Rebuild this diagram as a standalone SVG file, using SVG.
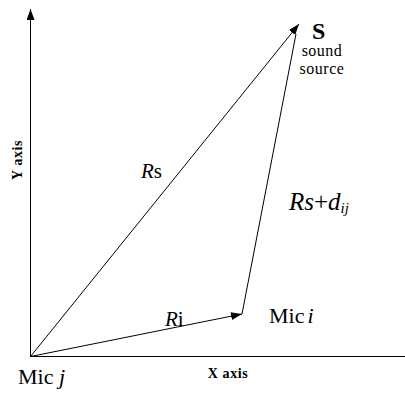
<svg xmlns="http://www.w3.org/2000/svg" width="405" height="396" viewBox="0 0 405 396" font-family="'Liberation Serif', 'DejaVu Serif', serif">
<style>
.t{font-family:'Liberation Serif','DejaVu Serif',serif;fill:#000}
.ln{stroke:#000;stroke-width:1;fill:none}
.b{font-weight:bold}
.it{font-style:italic}
.ax{font-size:14px;font-weight:bold;letter-spacing:0.6px}
</style>
<defs>
<marker id="ah" markerWidth="12" markerHeight="10" refX="11" refY="4" orient="auto" markerUnits="userSpaceOnUse">
<path d="M0,0 L11,4 L0,8 z" fill="#000"/>
</marker>
</defs>
<rect width="405" height="396" fill="#fff"/>
<g id="connectors">
<line class="ln" x1="30.5" y1="356.5" x2="30.5" y2="9" marker-end="url(#ah)"/>
<line class="ln" x1="30.5" y1="356.5" x2="405" y2="356.5"/>
<line class="ln" x1="30.5" y1="356.5" x2="299" y2="24" marker-end="url(#ah)"/>
<line class="ln" x1="30.5" y1="356.5" x2="242" y2="314" marker-end="url(#ah)"/>
<line class="ln" x1="242" y1="314" x2="296" y2="34"/>
</g>
<g id="source" class="t">
<text class="t b" x="312" y="39" font-size="24">S</text>
<text class="t" x="322" y="56" font-size="16" text-anchor="middle" letter-spacing="0.5">sound</text>
<text class="t" x="322" y="74" font-size="16" text-anchor="middle" letter-spacing="0.5">source</text>
</g>
<g id="labels" class="t">
<text class="t" x="141" y="178" font-size="21"><tspan class="it">R</tspan>s</text>
<text class="t it" x="289" y="210" font-size="25">Rs<tspan font-style="normal">+</tspan>d<tspan font-size="15" dy="3">ij</tspan></text>
<text class="t" x="165" y="326" font-size="21"><tspan class="it">R</tspan>i</text>
<text class="t" x="269" y="323" font-size="22">Mic<tspan class="it" dx="3">i</tspan></text>
<text class="t" x="18" y="384" font-size="22">Mic <tspan class="it">j</tspan></text>
<text class="t ax" x="228" y="378" text-anchor="middle">X axis</text>
<text class="t ax" transform="translate(22,160) rotate(-90)" text-anchor="middle">Y axis</text>
</g>
</svg>
